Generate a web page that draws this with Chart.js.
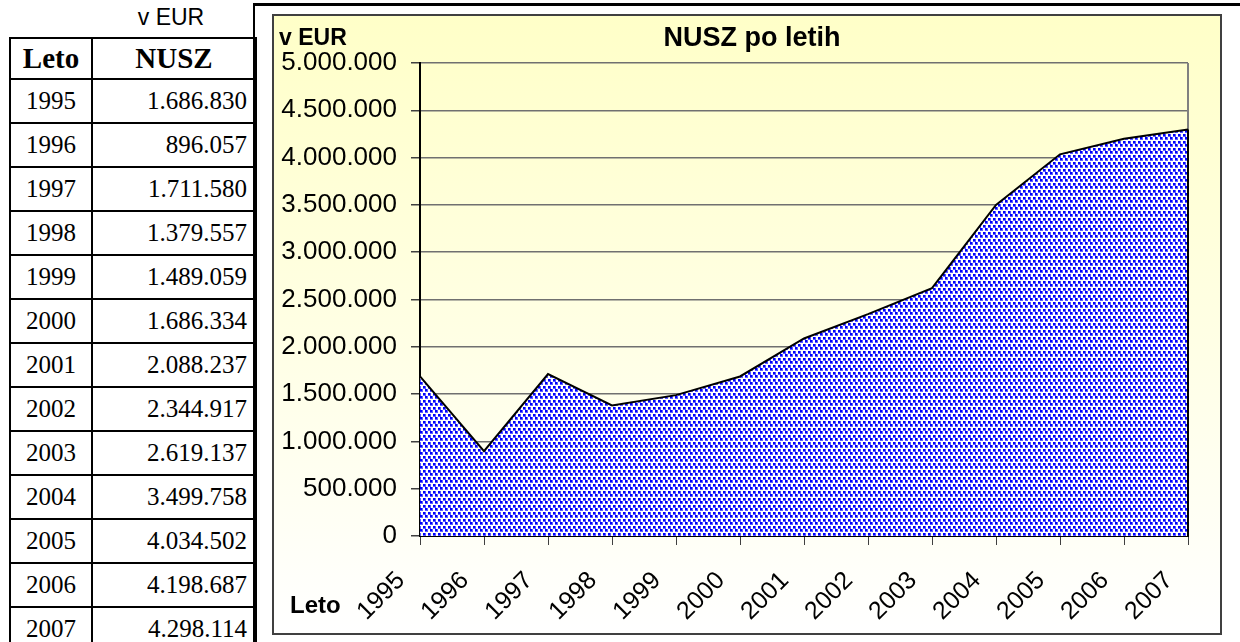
<!DOCTYPE html>
<html>
<head>
<meta charset="utf-8">
<script src="https://cdn.jsdelivr.net/npm/chart.js@4.4.0/dist/chart.umd.min.js"></script>
<style>
  html, body { margin: 0; padding: 0; background: #fff; width: 1240px; height: 642px; overflow: hidden; }
  body { position: relative; font-family: "Liberation Sans", Arial, sans-serif; }
  #unit { position: absolute; left: 116px; width: 110px; top: 4px; text-align: center; font-size: 23px; }
  #tbl { position: absolute; left: 9px; top: 37px; border-collapse: collapse;
         font-family: "Liberation Serif", "Times New Roman", serif; font-size: 25px; }
  #tbl td, #tbl th { border: 2px solid #000; padding: 0; }
  #tbl th { height: 39px; font-weight: bold; font-size: 29px; }
  #tbl td { height: 42px; }
  #tbl td.y { width: 80px; text-align: center; }
  #tbl td.v { width: 154px; text-align: right; padding-right: 8px; }
  #frame { position: absolute; left: 253px; top: 3px; width: 1000px; height: 700px;
           border-top: 3px solid #000; border-left: 2px solid #000; }
  #box { position: absolute; left: 272px; top: 14px; width: 950px; height: 621px; box-sizing: border-box;
         border: 2px solid #404040; background: linear-gradient(#ffffc8, #ffffff); }
  #wrap { position: absolute; left: 273px; top: 15px; width: 948px; height: 619px; }
</style>
</head>
<body>
<div id="unit">v EUR</div>
<table id="tbl"><thead><tr><th>Leto</th><th>NUSZ</th></tr></thead><tbody id="rows"></tbody></table>
<div id="frame"></div>
<div id="box"></div>
<div id="wrap"><canvas id="myChart"></canvas></div>
<script>
// podatki (v EUR)
const years = ["1995", "1996", "1997", "1998", "1999", "2000", "2001", "2002", "2003", "2004", "2005", "2006", "2007"];
const nusz = [1686830, 896057, 1711580, 1379557, 1489059, 1686334, 2088237, 2344917, 2619137, 3499758, 4034502, 4198687, 4298114];
const yMax = 5000000;
const yStep = 500000;
const title = "NUSZ po letih";

const fmt = (v) => String(v).replace(/\B(?=(\d{3})+(?!\d))/g, ".");

// tabela
const tbody = document.getElementById("rows");
years.forEach((y, i) => {
  const tr = document.createElement("tr");
  tr.innerHTML = '<td class="y">' + y + '</td><td class="v">' + fmt(nusz[i]) + "</td>";
  tbody.appendChild(tr);
});

// pikast vzorec za ploskev
function dots() {
  const c = document.createElement("canvas");
  c.width = 10; c.height = 7;
  const g = c.getContext("2d");
  g.fillStyle = "#fff";
  g.fillRect(0, 0, 10, 7);
  [[0, 0], [5, 0], [2, 3], [7, 3]].forEach(([x, y]) => {
    g.fillStyle = "#5a5aff";
    g.fillRect(x, y, 3, 3);
    g.fillStyle = "#0000ff";
    g.fillRect(x, y, 2, 2);
  });
  return g.createPattern(c, "repeat");
}

const extras = {
  id: "extras",
  beforeDatasetsDraw(chart) {
    const a = chart.chartArea, ctx = chart.ctx;
    ctx.save();
    ctx.strokeStyle = "#808080";
    ctx.lineWidth = 2;
    ctx.beginPath();
    ctx.moveTo(a.right, a.top);
    ctx.lineTo(a.right, a.bottom);
    ctx.stroke();
    ctx.restore();
  },
  afterDatasetsDraw(chart) {
    const ctx = chart.ctx;
    const pts = chart.getDatasetMeta(0).data;
    const last = pts[pts.length - 1];
    ctx.save();
    ctx.strokeStyle = "#000";
    ctx.lineWidth = 2;
    ctx.beginPath();
    ctx.moveTo(last.x, last.y);
    ctx.lineTo(last.x, chart.scales.y.getPixelForValue(0));
    ctx.stroke();
    ctx.restore();
  },
  afterDraw(chart) {
    const ctx = chart.ctx;
    ctx.save();
    ctx.fillStyle = "#000";
    ctx.textBaseline = "alphabetic";
    ctx.font = "bold 27px 'Liberation Sans', Arial";
    ctx.textAlign = "center";
    ctx.fillText(title, 479, 31);
    ctx.textAlign = "left";
    ctx.font = "bold 23px 'Liberation Sans', Arial";
    ctx.fillText("v EUR", 6, 30);
    ctx.font = "bold 24px 'Liberation Sans', Arial";
    ctx.fillText("Leto", 17, 598);
    ctx.restore();
  }
};

const ctx = document.getElementById("myChart");
// eslint-disable-next-line no-unused-vars
const myChart = new Chart(ctx, {
  type: "line",
  data: {
    labels: years,
    datasets: [{
      data: nusz,
      fill: "origin",
      backgroundColor: dots(),
      borderColor: "#000",
      borderWidth: 2,
      pointRadius: 0,
      tension: 0,
    }],
  },
  options: {
    responsive: true,
    maintainAspectRatio: false,
    animation: false,
    layout: { padding: { top: 48, right: 33, left: 0, bottom: 0 } },
    plugins: {
      legend: { display: false },
      tooltip: { enabled: false },
    },
    scales: {
      x: {
        offset: false,
        grid: { drawOnChartArea: false, drawTicks: true, tickLength: 9, tickColor: "#404040" },
        border: { color: "#000", width: 2 },
        ticks: {
          autoSkip: false, minRotation: 45, maxRotation: 45,
          color: "#000", font: { size: 25, family: "'Liberation Sans', Arial, sans-serif" },
          padding: 21, labelOffset: -19,
        },
        afterFit: (s) => { s.height = 98; s.paddingLeft = 0; s.paddingRight = 0; },
      },
      y: {
        min: 0, max: yMax,
        grid: { color: "#707070", lineWidth: 1.5, tickLength: 9, tickColor: "#404040" },
        border: { color: "#000", width: 2 },
        ticks: {
          stepSize: yStep, color: "#000", padding: 14,
          font: { size: 26, family: "'Liberation Sans', Arial, sans-serif" },
          callback: (v) => fmt(v),
        },
        afterFit: (s) => { s.width = 147; },
      },
    },
  },
  plugins: [extras],
});
</script>
</body>
</html>
